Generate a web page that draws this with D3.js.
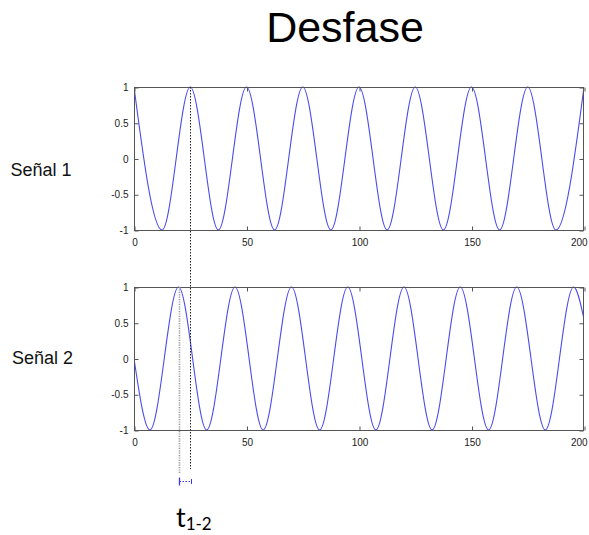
<!DOCTYPE html>
<html>
<head>
<meta charset="utf-8">
<script src="https://cdn.jsdelivr.net/npm/d3@7"></script>
<style>
  html, body { margin: 0; padding: 0; background: #fff; }
  svg { display: block; }
</style>
</head>
<body>
<svg id="chart" width="589" height="535"></svg>
<script>
// ---- data ----
const title = "Desfase";
const panelLabels = ["Señal 1", "Señal 2"];
const xTicks = [0, 50, 100, 150, 200];
const yTicks = [-1, -0.5, 0, 0.5, 1];
const yTickLabels = ["-1", "-0.5", "0", "0.5", "1"];

// Signal 1: turning points (t, value)
const sig1T = [0, 12.5, 25, 37.5, 50, 62.5, 75, 87.5, 100, 112.5, 125, 137.5, 150, 162.5, 175, 187.5, 200];
const sig1V = [1, -1, 1, -1, 1, -1, 1, -1, 1, -1, 1, -1, 1, -1, 1, -1, 1];

// Signal 2: start, turning points, end (t, value)
const sig2T = [0, 7.1, 19.8, 32.3, 44.9, 57.4, 70.0, 82.5, 95.0, 107.5, 120.0, 132.5, 145.0, 157.6, 170.1, 182.8, 195.4, 200];
const sig2V = [0, -1, 1, -1, 1, -1, 1, -1, 1, -1, 1, -1, 1, -1, 1, -1, 1, 0.55];

// phase-shift annotation: peak of signal 2 and peak of signal 1
const peak2T = 19.8;
const peak1T = 25;
const shiftLabel = "t";
const shiftSub = "1-2";

// ---- drawing ----
const svg = d3.select("#chart");
const W = 589;
const left = 134, right = 584;
const panels = [
  { top: 87, bottom: 230, t: sig1T, v: sig1V, label: panelLabels[0], labelY: 175.5 },
  { top: 287, bottom: 430, t: sig2T, v: sig2V, label: panelLabels[1], labelY: 364 }
];

const x = d3.scaleLinear().domain([0, 200]).range([left, right]);

svg.append("text")
  .attr("x", 345).attr("y", 42)
  .attr("text-anchor", "middle")
  .attr("font-family", "Liberation Sans, Arial, sans-serif")
  .attr("font-size", 43)
  .attr("fill", "#000")
  .text(title);

const lineColor = "#4a4af2";
const frameColor = "#555";
const tickFont = "Liberation Sans, Arial, sans-serif";

panels.forEach((p, i) => {
  const y = d3.scaleLinear().domain([-1, 1]).range([p.bottom, p.top]);
  const g = svg.append("g");

  const clipId = "clip" + i;
  svg.append("clipPath").attr("id", clipId)
    .append("rect").attr("x", left).attr("y", p.top - 1)
    .attr("width", right - left).attr("height", p.bottom - p.top + 2);

  // curve
  const pts = p.t.map((t, k) => [t, p.v[k]]);
  const line = d3.line().x(d => x(d[0])).y(d => y(d[1])).curve(d3.curveMonotoneX);
  g.append("path").datum(pts)
    .attr("d", line)
    .attr("fill", "none")
    .attr("stroke", lineColor)
    .attr("stroke-width", 1.1)
    .attr("clip-path", `url(#${clipId})`);

  // frame
  g.append("rect")
    .attr("x", left + 0.5).attr("y", p.top + 0.5)
    .attr("width", right - left - 1).attr("height", p.bottom - p.top)
    .attr("fill", "none").attr("stroke", frameColor).attr("stroke-width", 1);

  // axes with inward ticks
  const xAxisB = d3.axisBottom(x).tickValues(xTicks).tickSize(-4).tickPadding(8).tickFormat(d3.format("d"));
  const gxb = g.append("g").attr("transform", `translate(0.5,${p.bottom + 0.5})`).call(xAxisB);
  const xAxisT = d3.axisTop(x).tickValues(xTicks).tickSize(-4).tickFormat("");
  const gxt = g.append("g").attr("transform", `translate(0.5,${p.top + 0.5})`).call(xAxisT);
  const yAxisL = d3.axisLeft(y).tickValues(yTicks).tickSize(-4).tickPadding(6)
    .tickFormat((d, k) => yTickLabels[k]);
  const gyl = g.append("g").attr("transform", `translate(${left + 0.5},0.5)`).call(yAxisL);
  const yAxisR = d3.axisRight(y).tickValues(yTicks).tickSize(-4).tickFormat("");
  const gyr = g.append("g").attr("transform", `translate(${right - 0.5},0.5)`).call(yAxisR);

  [gxb, gxt, gyl, gyr].forEach(a => {
    a.select(".domain").remove();
    a.selectAll(".tick line").attr("stroke", frameColor);
    a.selectAll("text").attr("font-family", tickFont).attr("font-size", 10).attr("fill", "#222");
  });
  gyl.selectAll("text").attr("dy", "0.32em");

  // keep the last x label inside the window
  gxb.selectAll(".tick text").each(function () {
    const bb = this.getBBox();
    const tr = this.parentNode.transform.baseVal.consolidate();
    const absRight = (tr ? tr.matrix.e : 0) + 0.5 + bb.x + bb.width;
    if (absRight > W - 1) d3.select(this).attr("x", (W - 1) - absRight);
  });

  // panel label
  svg.append("text")
    .attr("x", i === 0 ? 10.5 : 12).attr("y", p.labelY)
    .attr("font-family", "Liberation Sans, Arial, sans-serif")
    .attr("font-size", 18)
    .attr("fill", "#111")
    .text(p.label);
});

// annotation lines
const y1 = d3.scaleLinear().domain([-1, 1]).range([panels[0].bottom, panels[0].top]);
const y2 = d3.scaleLinear().domain([-1, 1]).range([panels[1].bottom, panels[1].top]);
const xa = Math.round(x(peak2T)) + 0.5;
const xb = Math.round(x(peak1T)) + 0.5;

svg.append("line")
  .attr("x1", xb).attr("x2", xb).attr("y1", y1(1)).attr("y2", 469)
  .attr("stroke", "#222").attr("stroke-width", 1).attr("stroke-dasharray", "1.5,1.5");
svg.append("line")
  .attr("x1", xa).attr("x2", xa).attr("y1", y2(1)).attr("y2", 473)
  .attr("stroke", "#999").attr("stroke-width", 1.6).attr("stroke-dasharray", "1.2,1.2");

// t1-2 marker
const my = 481.5;
const markColor = "#3a3af0";
svg.append("line")
  .attr("x1", xa).attr("x2", xb + 1).attr("y1", my).attr("y2", my)
  .attr("stroke", markColor).attr("stroke-width", 1.2).attr("stroke-dasharray", "1.5,1.5");
svg.append("line")
  .attr("x1", xa).attr("x2", xa).attr("y1", my - 4).attr("y2", my + 4)
  .attr("stroke", markColor).attr("stroke-width", 1.3);
svg.append("line")
  .attr("x1", xb + 1).attr("x2", xb + 1).attr("y1", my - 2.5).attr("y2", my + 2.5)
  .attr("stroke", markColor).attr("stroke-width", 1);

const lbl = svg.append("text")
  .attr("x", 176).attr("y", 527)
  .attr("font-family", "Lato, Open Sans, sans-serif")
  .attr("font-size", 27)
  .attr("fill", "#000");
lbl.append("tspan").text(shiftLabel);
lbl.append("tspan").attr("font-size", 17).attr("dy", 3).text(shiftSub);
</script>
</body>
</html>
